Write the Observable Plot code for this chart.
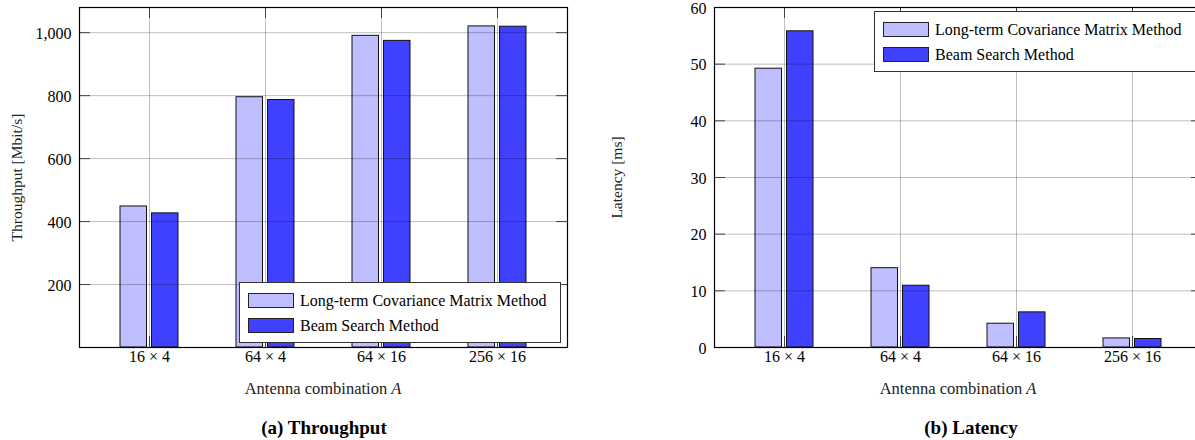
<!DOCTYPE html>
<html>
<head>
<meta charset="utf-8">
<script src="https://cdn.jsdelivr.net/npm/d3@7"></script>
<script src="https://cdn.jsdelivr.net/npm/@observablehq/plot@0.6"></script>
<style>
  html, body { margin: 0; padding: 0; background: #fff; overflow: hidden; width: 1195px; height: 440px; }
  #page { position: relative; width: 1195px; height: 440px; overflow: hidden; font-family: "Liberation Serif", serif; color: #000; }
  .chart { position: absolute; top: 0; }
  .legend { position: absolute; background: #fff; border: 1px solid #333; box-sizing: border-box; }
  .sw { position: absolute; width: 46px; height: 15px; border: 1px solid #222; box-sizing: border-box; }
  .lt { position: absolute; font-size: 16px; line-height: 15px; white-space: nowrap; }
  .xlabel { position: absolute; font-size: 16.5px; white-space: nowrap; transform: translate(-50%, -50%); color: #222; }
  .caption { position: absolute; font-size: 19px; font-weight: bold; white-space: nowrap; transform: translate(-50%, -50%); }
</style>
</head>
<body>
<div id="page"></div>
<script>
// ---- data ----
const categories = ["16 × 4", "64 × 4", "64 × 16", "256 × 16"];
const seriesNames = ["Long-term Covariance Matrix Method", "Beam Search Method"];
const seriesColors = ["#bfbfff", "#4040ff"];
const throughputLT = [448, 795, 990, 1020];
const throughputBS = [426, 786, 974, 1019];
const latencyLT = [49.2, 14.0, 4.2, 1.6];
const latencyBS = [55.8, 10.9, 6.2, 1.5];
const throughputTicks = [200, 400, 600, 800, 1000];
const latencyTicks = [0, 10, 20, 30, 40, 50, 60];
const throughputDomain = [0, 1080];
const latencyDomain = [0, 60];

const page = document.getElementById("page");
const fmt = d3.format(",");
const FS = 16;

function makeChart({lt, bs, domain, ticks, ylabel, width, marginLeft, marginRight, left}) {
  const plotW = width - marginLeft - marginRight;
  const plotH = 340;
  const dataLT = categories.map((c, i) => ({cat: c, value: lt[i]}));
  const dataBS = categories.map((c, i) => ({cat: c, value: bs[i]}));
  const chart = Plot.plot({
    width, height: 400,
    marginLeft, marginRight, marginTop: 7, marginBottom: 53,
    style: {fontFamily: "'Liberation Serif', serif", fontSize: FS + "px", color: "#000", background: "transparent", overflow: "visible"},
    x: {type: "band", domain: categories, paddingInner: 0, paddingOuter: 0.1, axis: null},
    y: {domain, axis: null},
    marks: [
      Plot.barY(dataLT, {x: "cat", y: "value", fill: seriesColors[0], stroke: "#111", strokeWidth: 1, insetLeft: 29, insetRight: 60.5}),
      Plot.barY(dataBS, {x: "cat", y: "value", fill: seriesColors[1], stroke: "#111", strokeWidth: 1, insetLeft: 60.5, insetRight: 29}),
      // grid
      Plot.ruleY(ticks, {y: d => d, stroke: "#000", strokeOpacity: 0.25, strokeWidth: 1}),
      Plot.ruleX(categories, {x: d => d, stroke: "#000", strokeOpacity: 0.25, strokeWidth: 1}),
      // inner ticks
      Plot.ruleY(ticks, {y: d => d, stroke: "#444", insetRight: plotW - 11}),
      Plot.ruleY(ticks, {y: d => d, stroke: "#444", insetLeft: plotW - 11}),
      Plot.ruleX(categories, {x: d => d, stroke: "#444", insetBottom: plotH - 11}),
      Plot.ruleX(categories, {x: d => d, stroke: "#444", insetTop: plotH - 11}),
      // tick labels
      Plot.text(ticks, {y: d => d, text: d => fmt(d), frameAnchor: "left", textAnchor: "end", dx: -8, dy: 1, fill: "#000", fontSize: FS}),
      Plot.text(categories, {x: d => d, text: d => d, frameAnchor: "bottom", dy: 14, fill: "#000", fontSize: FS}),
      // y label
      Plot.text([ylabel], {text: d => d, frameAnchor: "left", textAnchor: "middle", rotate: -90, dx: -(marginLeft - 17), fill: "#222", fontSize: 15.5}),
      Plot.frame({stroke: "#000", strokeWidth: 1.2})
    ]
  });
  chart.classList.add("chart");
  chart.style.left = left + "px";
  chart.style.overflow = "visible";
  page.appendChild(chart);
}

makeChart({lt: throughputLT, bs: throughputBS, domain: throughputDomain, ticks: throughputTicks,
  ylabel: "Throughput [Mbit/s]", width: 600, marginLeft: 79, marginRight: 33, left: 0});
makeChart({lt: latencyLT, bs: latencyBS, domain: latencyDomain, ticks: latencyTicks,
  ylabel: "Latency [ms]", width: 640, marginLeft: 114, marginRight: 38, left: 600});

function legend(x, y) {
  const box = document.createElement("div");
  box.className = "legend";
  box.style.left = x + "px"; box.style.top = y + "px";
  box.style.width = "322px"; box.style.height = "61px";
  seriesNames.forEach((name, i) => {
    const sw = document.createElement("div");
    sw.className = "sw";
    sw.style.background = seriesColors[i];
    sw.style.left = "8px"; sw.style.top = (10 + i * 25) + "px";
    box.appendChild(sw);
    const t = document.createElement("div");
    t.className = "lt";
    t.textContent = name;
    t.style.left = "60px"; t.style.top = (10 + i * 25) + "px";
    box.appendChild(t);
  });
  page.appendChild(box);
}
legend(239, 282);
legend(874, 11);

function label(html, cls, x, y) {
  const d = document.createElement("div");
  d.className = cls;
  d.innerHTML = html;
  d.style.left = x + "px"; d.style.top = y + "px";
  page.appendChild(d);
}
label("Antenna combination <i>A</i>", "xlabel", 323, 389);
label("Antenna combination <i>A</i>", "xlabel", 958, 389);
label("(a) Throughput", "caption", 324, 428);
label("(b) Latency", "caption", 971, 428);
</script>
</body>
</html>
